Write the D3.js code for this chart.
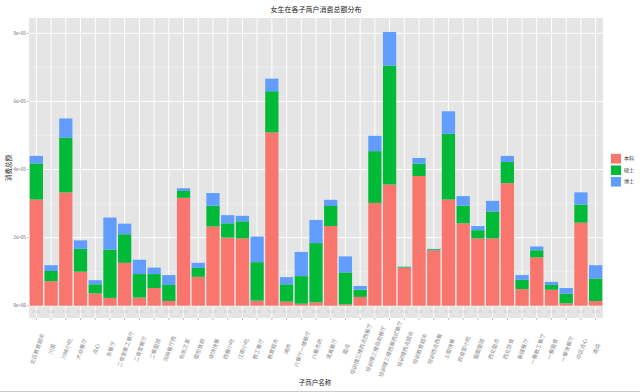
<!DOCTYPE html>
<html><head><meta charset="utf-8">
<script src="https://cdn.jsdelivr.net/npm/d3@7"></script>
<style>body{margin:0;background:#fff}svg{display:block;font-family:"Noto Sans CJK SC","Noto Sans",sans-serif}</style>
</head><body><svg id="c" width="640" height="392"></svg>
<script>
const categories = ["北区教育超市","川菜","川味小吃","大众餐厅","点心","东餐厅","二食堂教工餐厅","二食堂餐厅","二餐面馆","风味餐厅西","佑佑之家","面包食府","烧饼快餐","西餐小吃","江南小吃","教工餐厅","教育超市","烤肉","六餐厅一楼餐厅","六餐杰肉","清真餐厅","面点","培训楼三楼西点西餐厅","培训楼三楼自助餐厅","培训楼三楼西餐西式餐厅","培训楼西点超市","培训教育超市","培训西点西餐","上面快餐","四食堂小吃","面面面馆","西北面点","西北饭食","新疆餐厅","一餐教工餐厅","一餐面食","一餐快餐厅","中区点心","清炖"];
const benke = [312000,72000,333000,100000,36000,23000,126000,24000,52000,14000,317000,85000,233000,200000,198000,15000,509000,12000,6000,10000,234000,4000,26000,302000,356000,112000,381000,163000,312000,242000,198000,198000,360000,49000,142000,47000,7000,244000,14000];
const shuoshi = [106000,30000,160000,67000,27000,142000,84000,69000,41000,47000,20000,26000,61000,42000,50000,113000,121000,51000,81000,174000,59000,94000,21000,152000,349000,2000,36000,3000,193000,52000,24000,79000,62000,27000,21000,14000,28000,53000,66000];
const boshi = [22000,17000,57000,25000,12000,94000,31000,42000,19000,29000,8000,15000,37000,24000,16000,75000,37000,21000,71000,68000,18000,47000,11000,45000,99000,1000,17000,1000,66000,28000,12000,31000,18000,14000,11000,9000,17000,36000,39000];
const seriesNames = ["本科","硕士","博士"];
const colors = ["#F8766D","#00BA38","#619CFF"];
const yTicks = [0,200000,400000,600000,800000];
const yTickLabels = ["0e+00","2e+05","4e+05","6e+05","8e+05"];

const svg = d3.select("#c");
const L=29, R=603, T=18, B=318;
const rows = categories.map((c,i)=>({cat:c,"本科":benke[i],"硕士":shuoshi[i],"博士":boshi[i]}));
const stack = d3.stack().keys(seriesNames)(rows);
const x = d3.scaleBand().domain(categories).range([L,R]).paddingInner(0.1).paddingOuter(0.05);
const y = d3.scaleLinear().domain([-36000,845000]).range([B,T]);

svg.append("rect").attr("x",L).attr("y",T).attr("width",R-L).attr("height",B-T).attr("fill","#E5E5E5");
const minor=[100000,300000,500000,700000];
svg.append("g").selectAll("line").data(minor).join("line")
 .attr("x1",L).attr("x2",R).attr("y1",d=>y(d)).attr("y2",d=>y(d)).attr("stroke","#F2F2F2").attr("stroke-width",0.5);
svg.append("g").selectAll("line").data(yTicks).join("line")
 .attr("x1",L).attr("x2",R).attr("y1",d=>y(d)).attr("y2",d=>y(d)).attr("stroke","#fff").attr("stroke-width",1);
svg.append("g").selectAll("line").data(categories).join("line")
 .attr("x1",d=>x(d)+x.bandwidth()/2).attr("x2",d=>x(d)+x.bandwidth()/2).attr("y1",T).attr("y2",B).attr("stroke","#fff").attr("stroke-width",1);

stack.forEach((s,si)=>{
  svg.append("g").attr("fill",colors[si]).selectAll("rect").data(s).join("rect")
   .attr("x",d=>x(d.data.cat)).attr("width",x.bandwidth())
   .attr("y",d=>y(d[1])).attr("height",d=>Math.max(0,y(d[0])-y(d[1])));
});

svg.append("g").selectAll("text").data(categories).join("text")
 .attr("x",d=>x(d)+x.bandwidth()/2).attr("y",y(-20000)).attr("text-anchor","middle")
 .attr("font-size",4).attr("fill","#c9c9c9").text("0.00");

const ya = svg.append("g");
yTicks.forEach((t,i)=>{
  ya.append("line").attr("x1",L-2).attr("x2",L).attr("y1",y(t)).attr("y2",y(t)).attr("stroke","#7f7f7f").attr("stroke-width",0.5);
  ya.append("text").attr("x",L-3).attr("y",y(t)).attr("dy","0.35em").attr("text-anchor","end")
   .attr("font-size",4.5).attr("fill","#666").text(yTickLabels[i]);
});
const xa = svg.append("g");
categories.forEach(c=>{
  const cx = x(c)+x.bandwidth()/2;
  xa.append("line").attr("x1",cx).attr("x2",cx).attr("y1",B).attr("y2",B+2).attr("stroke","#7f7f7f").attr("stroke-width",0.5);
  xa.append("text").attr("transform",`translate(${cx+1},${349}) rotate(-70)`).attr("text-anchor","middle")
   .attr("dy","0.35em").attr("font-size",5.4).attr("fill","#888").text(c);
});

svg.append("text").attr("x",316).attr("y",12).attr("text-anchor","middle").attr("font-size",7).attr("fill","#222").text("女生在各子商户消费总额分布");
svg.append("text").attr("x",315).attr("y",385).attr("text-anchor","middle").attr("font-size",6.5).attr("fill","#222").text("子商户名称");
svg.append("text").attr("transform","translate(9,168) rotate(-90)").attr("text-anchor","middle").attr("dy","0.35em").attr("font-size",6.5).attr("fill","#222").text("消费总额");

const lg = svg.append("g");
seriesNames.forEach((n,i)=>{
  lg.append("rect").attr("x",610).attr("y",153+i*11.5).attr("width",11).attr("height",11).attr("fill","#f2f2f2");
  lg.append("rect").attr("x",611).attr("y",154+i*11.5).attr("width",10).attr("height",9.5).attr("fill",colors[i]);
  lg.append("text").attr("x",624).attr("y",158.5+i*11.5).attr("dy","0.35em").attr("font-size",5).attr("fill","#333").text(n);
});
svg.append("line").attr("x1",0).attr("x2",640).attr("y1",391.5).attr("y2",391.5).attr("stroke","#ccc");
</script></body></html>
